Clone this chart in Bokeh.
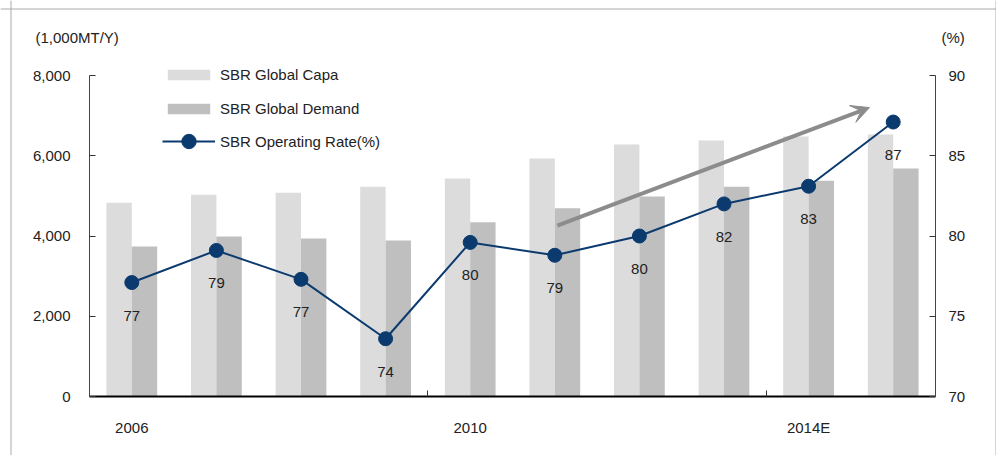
from bokeh.plotting import figure
from bokeh.models import (Range1d, LinearAxis, FixedTicker, ColumnDataSource, LabelSet,
                          Label, Arrow, VeeHead, Legend, LegendItem, Span, NumeralTickFormatter)
from bokeh.core.properties import value
from bokeh.embed import file_html
from bokeh.resources import INLINE

# ---- data ----
years = ["2006", "2007", "2008", "2009", "2010", "2011", "2012", "2013", "2014E", "2015E"]
capa = [4830, 5030, 5080, 5230, 5430, 5930, 6280, 6380, 6480, 6530]
demand = [3740, 3990, 3940, 3890, 4340, 4690, 4985, 5230, 5380, 5680]
rate = [77.1, 79.1, 77.3, 73.6, 79.6, 78.8, 80.0, 82.0, 83.1, 87.1]
rate_labels = ["77", "79", "77", "74", "80", "79", "80", "82", "83", "87"]
shown_year_labels = {0: "2006", 4: "2010", 8: "2014E"}
left_ticks = [0, 2000, 4000, 6000, 8000]
right_ticks = [70, 75, 80, 85, 90]
trend_start = (5.53, 80.65)
trend_end = (9.22, 88.0)

# ---- layout (pixels) ----
W, H = 996, 455
FL, FR, FT, FB = 89, 935, 75, 396      # plot area edges on the canvas
N = len(years)
ppx = (FR - FL) / N
def dx(px):
    return (px - FL) / ppx
def dy_left(py):
    return (FB - py) * 8000 / (FB - FT)
def dy_rate(py):
    return 70 + (FB - py) * 20 / (FB - FT)

FONT = "Liberation Sans"
TXT = "#222222"
FS = "15px"

idx = list(range(N))
src = ColumnDataSource(dict(
    x=[i + 0.5 for i in idx],
    xcapa=[i + 0.5 - 0.15 for i in idx],
    xdem=[i + 0.5 + 0.15 for i in idx],
    capa=capa, demand=demand, rate=rate, lab=rate_labels,
))

p = figure(width=W, height=H, output_backend="svg", toolbar_location=None,
           x_range=Range1d(dx(0), dx(W)), y_range=Range1d(dy_left(H), dy_left(0)),
           min_border=0)
p.extra_y_ranges = {"rate": Range1d(dy_rate(H), dy_rate(0))}
p.outline_line_color = None
p.xgrid.visible = False
p.ygrid.visible = False
p.background_fill_color = "white"
p.border_fill_color = "white"

r_capa = p.vbar(x="xcapa", top="capa", bottom=0, width=0.3, source=src,
                fill_color="#dcdcdc", line_color=None)
r_dem = p.vbar(x="xdem", top="demand", bottom=0, width=0.3, source=src,
               fill_color="#bfbfbf", line_color=None)

p.add_layout(Arrow(end=VeeHead(size=18, fill_color="#8c8c8c", line_color="#8c8c8c"),
                   x_start=trend_start[0], y_start=trend_start[1],
                   x_end=trend_end[0], y_end=trend_end[1], y_range_name="rate",
                   line_color="#8c8c8c", line_width=4))

r_line = p.line(x="x", y="rate", source=src, y_range_name="rate", line_color="#0b3a6e", line_width=2)
r_pts = p.scatter(x="x", y="rate", source=src, y_range_name="rate", size=14,
                  fill_color="#0b3a6e", line_color="#0b3a6e")

p.add_layout(LabelSet(x="x", y="rate", text="lab", source=src, y_range_name="rate",
                      y_offset=-33, text_align="center", text_baseline="middle",
                      text_font=value(FONT), text_font_size=value(FS), text_color=TXT))

# left axis
ya = p.yaxis[0]
ya.fixed_location = 0
ya.bounds = (0, 8000)
ya.ticker = FixedTicker(ticks=left_ticks, minor_ticks=[])
ya.formatter = NumeralTickFormatter(format="0,0")
ya.major_tick_in = 6
ya.major_tick_out = 0
ya.minor_tick_in = 0
ya.minor_tick_out = 0
ya.axis_line_color = "#444444"
ya.major_tick_line_color = "#333333"
ya.major_label_standoff = 19
ya.major_label_text_font = FONT
ya.major_label_text_font_size = FS
ya.major_label_text_color = TXT

# right axis
ra = LinearAxis(y_range_name="rate", ticker=FixedTicker(ticks=right_ticks, minor_ticks=[]))
ra.fixed_location = N
ra.bounds = (70, 90)
ra.major_tick_in = 6
ra.major_tick_out = 0
ra.minor_tick_in = 0
ra.minor_tick_out = 0
ra.axis_line_color = "#444444"
ra.major_tick_line_color = "#333333"
ra.major_label_standoff = 13
ra.major_label_text_font = FONT
ra.major_label_text_font_size = FS
ra.major_label_text_color = TXT
p.add_layout(ra, "right")

# x axis
xa = p.xaxis[0]
xa.fixed_location = 0
xa.bounds = (0, N)
xa.ticker = FixedTicker(ticks=[k + 0.5 for k in shown_year_labels], minor_ticks=[4, 8])
xa.major_label_overrides = {k + 0.5: v for k, v in shown_year_labels.items()}
xa.major_tick_in = 0
xa.major_tick_out = 0
xa.minor_tick_in = 6
xa.minor_tick_out = 0
xa.minor_tick_line_color = "#333333"
xa.axis_line_color = "black"
xa.axis_line_width = 2
xa.major_label_standoff = 22
xa.major_label_text_font = FONT
xa.major_label_text_font_size = FS
xa.major_label_text_color = TXT

# unit labels
p.add_layout(Label(x=dx(35), y=dy_left(37), text="(1,000MT/Y)", text_baseline="middle",
                   text_font=FONT, text_font_size=FS, text_color=TXT))
p.add_layout(Label(x=dx(941), y=dy_left(37), text="(%)", text_baseline="middle",
                   text_font=FONT, text_font_size=FS, text_color=TXT))

# legends
leg_style = dict(padding=0, margin=0, border_line_color=None, background_fill_alpha=0,
                 label_text_font=FONT, label_text_font_size=FS, label_text_color=TXT,
                 label_standoff=5, glyph_width=53)
legend_bars = Legend(items=[
    LegendItem(label="SBR Global Capa", renderers=[r_capa]),
    LegendItem(label="SBR Global Demand", renderers=[r_dem]),
], location=(162, H - 118.5), glyph_height=13, label_height=20, spacing=14, **leg_style)
legend_line = Legend(items=[
    LegendItem(label="SBR Operating Rate(%)", renderers=[r_line, r_pts]),
], location=(162, H - 159), glyph_height=36, label_height=20, spacing=0, **leg_style)
p.add_layout(legend_bars, "center")
p.add_layout(legend_line, "center")

# outer frame border (left, top, right)
for loc in (dx(10.5), dx(995.5)):
    p.add_layout(Span(location=loc, dimension="height", line_color="#aaaaaa", line_width=1))
p.add_layout(Span(location=dy_left(8.5), dimension="width", line_color="#aaaaaa", line_width=1))

open("out.html", "w").write(file_html(p, INLINE))
